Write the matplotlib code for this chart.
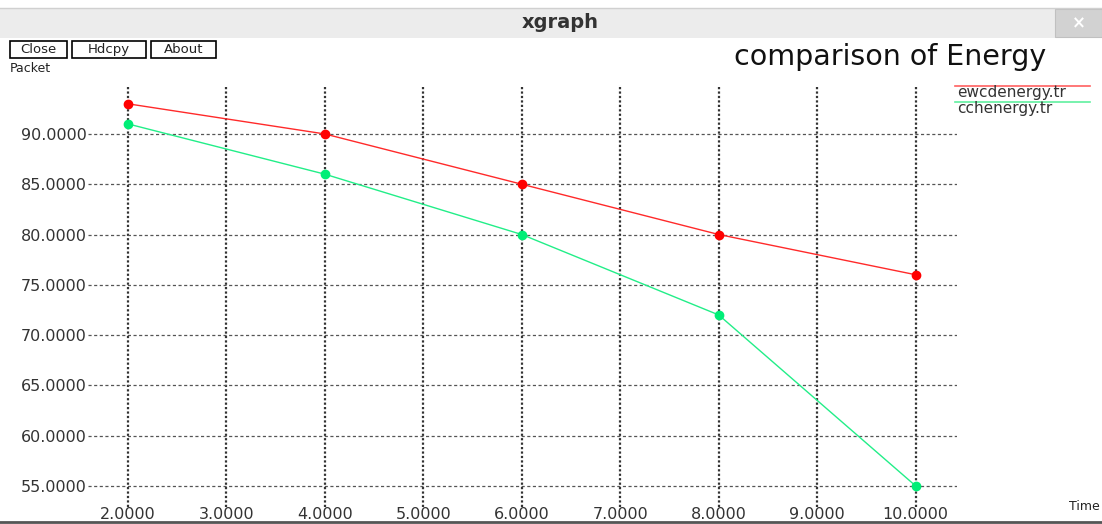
import matplotlib
matplotlib.use("Agg")
import matplotlib.pyplot as plt
from matplotlib.patches import Rectangle
from matplotlib.lines import Line2D

plt.rcParams['font.family'] = ['DejaVu Sans']

time = [2, 4, 6, 8, 10]
ewcd = [93, 90, 85, 80, 76]
cche = [91, 86, 80, 72, 55]
series_names = ["ewcdenergy.tr", "cchenergy.tr"]
xticks = [2, 3, 4, 5, 6, 7, 8, 9, 10]
yticks = [55, 60, 65, 70, 75, 80, 85, 90]
title = "comparison of Energy"

W, H = 1102, 524
fig = plt.figure(figsize=(W / 100, H / 100), dpi=100)
fig.patch.set_facecolor("white")

def fx(px):
    return px / W

def fy(py):
    return 1 - py / H

# title bar
fig.add_artist(Rectangle((0, fy(38)), 1, fy(8) - fy(38), transform=fig.transFigure,
                         facecolor="#ececec", edgecolor="none"))
fig.add_artist(Line2D([0, 1], [fy(8), fy(8)], transform=fig.transFigure, color="#d0d0d0", lw=1))
fig.add_artist(Rectangle((fx(1055), fy(37)), fx(W) - fx(1055), fy(9) - fy(37),
                         transform=fig.transFigure, facecolor="#d2d2d2", edgecolor="#c0c0c0", lw=0.8))
fig.text(fx(1079), fy(23), "×", color="white", fontsize=12, ha="center", va="center",
         fontweight="bold")
fig.text(fx(560), fy(23), "xgraph", color="#333333", fontsize=14, ha="center", va="center",
         fontweight="bold")

# buttons
for label, x0, x1 in [("Close", 10, 67), ("Hdcpy", 72, 146), ("About", 151, 216)]:
    fig.add_artist(Rectangle((fx(x0), fy(58)), fx(x1) - fx(x0), fy(41) - fy(58),
                             transform=fig.transFigure, facecolor="white",
                             edgecolor="black", lw=1.2))
    fig.text(fx((x0 + x1) / 2), fy(49.5), label, fontsize=9.5, ha="center", va="center",
             color="#222222")

fig.text(fx(10), fy(69), "Packet", fontsize=9, ha="left", va="center", color="#222222")
fig.text(fx(1046), fy(57), title, fontsize=20.5, ha="right", va="center", color="#111111")
fig.text(fx(1100), fy(506), "Time", fontsize=9, ha="right", va="center", color="#222222")

# bottom border
fig.add_artist(Line2D([0, 1], [fy(522), fy(522)], transform=fig.transFigure, color="#555555", lw=2))

ax = fig.add_axes([fx(88), fy(507), fx(957) - fx(88), fy(85) - fy(507)])
ax.set_xlim(1.594, 10.42)
ax.set_ylim(52.9, 94.87)
for s in ax.spines.values():
    s.set_visible(False)
ax.set_xticks(xticks)
ax.set_yticks(yticks)
ax.set_xticklabels([f"{v:.4f}" for v in xticks])
ax.set_yticklabels([f"{v:.4f}" for v in yticks])
ax.tick_params(length=0, labelsize=11.5, colors="#333333")
ax.tick_params(axis="y", pad=1)
ax.tick_params(axis="x", pad=0)
for v in xticks:
    ax.axvline(v, color="#333333", lw=1.6, ls=(0, (1, 1)), zorder=1)
for v in yticks:
    ax.axhline(v, color="#555555", lw=0.9, ls=(0, (2.5, 2)), zorder=1)

ax.plot(time, ewcd, color="#ff2a2a", lw=1, marker="o", ms=6, mec="#ff0000", mfc="#ff0000", zorder=3)
ax.plot(time, cche, color="#22ee88", lw=1, marker="o", ms=6, mec="#00ee77", mfc="#00ee77", zorder=3)

# legend
for i, (name, col) in enumerate(zip(series_names, ["#ff6060", "#60f0a0"])):
    yl = 86 + 16 * i
    fig.add_artist(Line2D([fx(955), fx(1090)], [fy(yl), fy(yl)], transform=fig.transFigure,
                          color=col, lw=1.2))
    fig.text(fx(957), fy(yl + 7), name, fontsize=11, ha="left", va="center", color="#333333")

fig.savefig("out.png", dpi=100)
